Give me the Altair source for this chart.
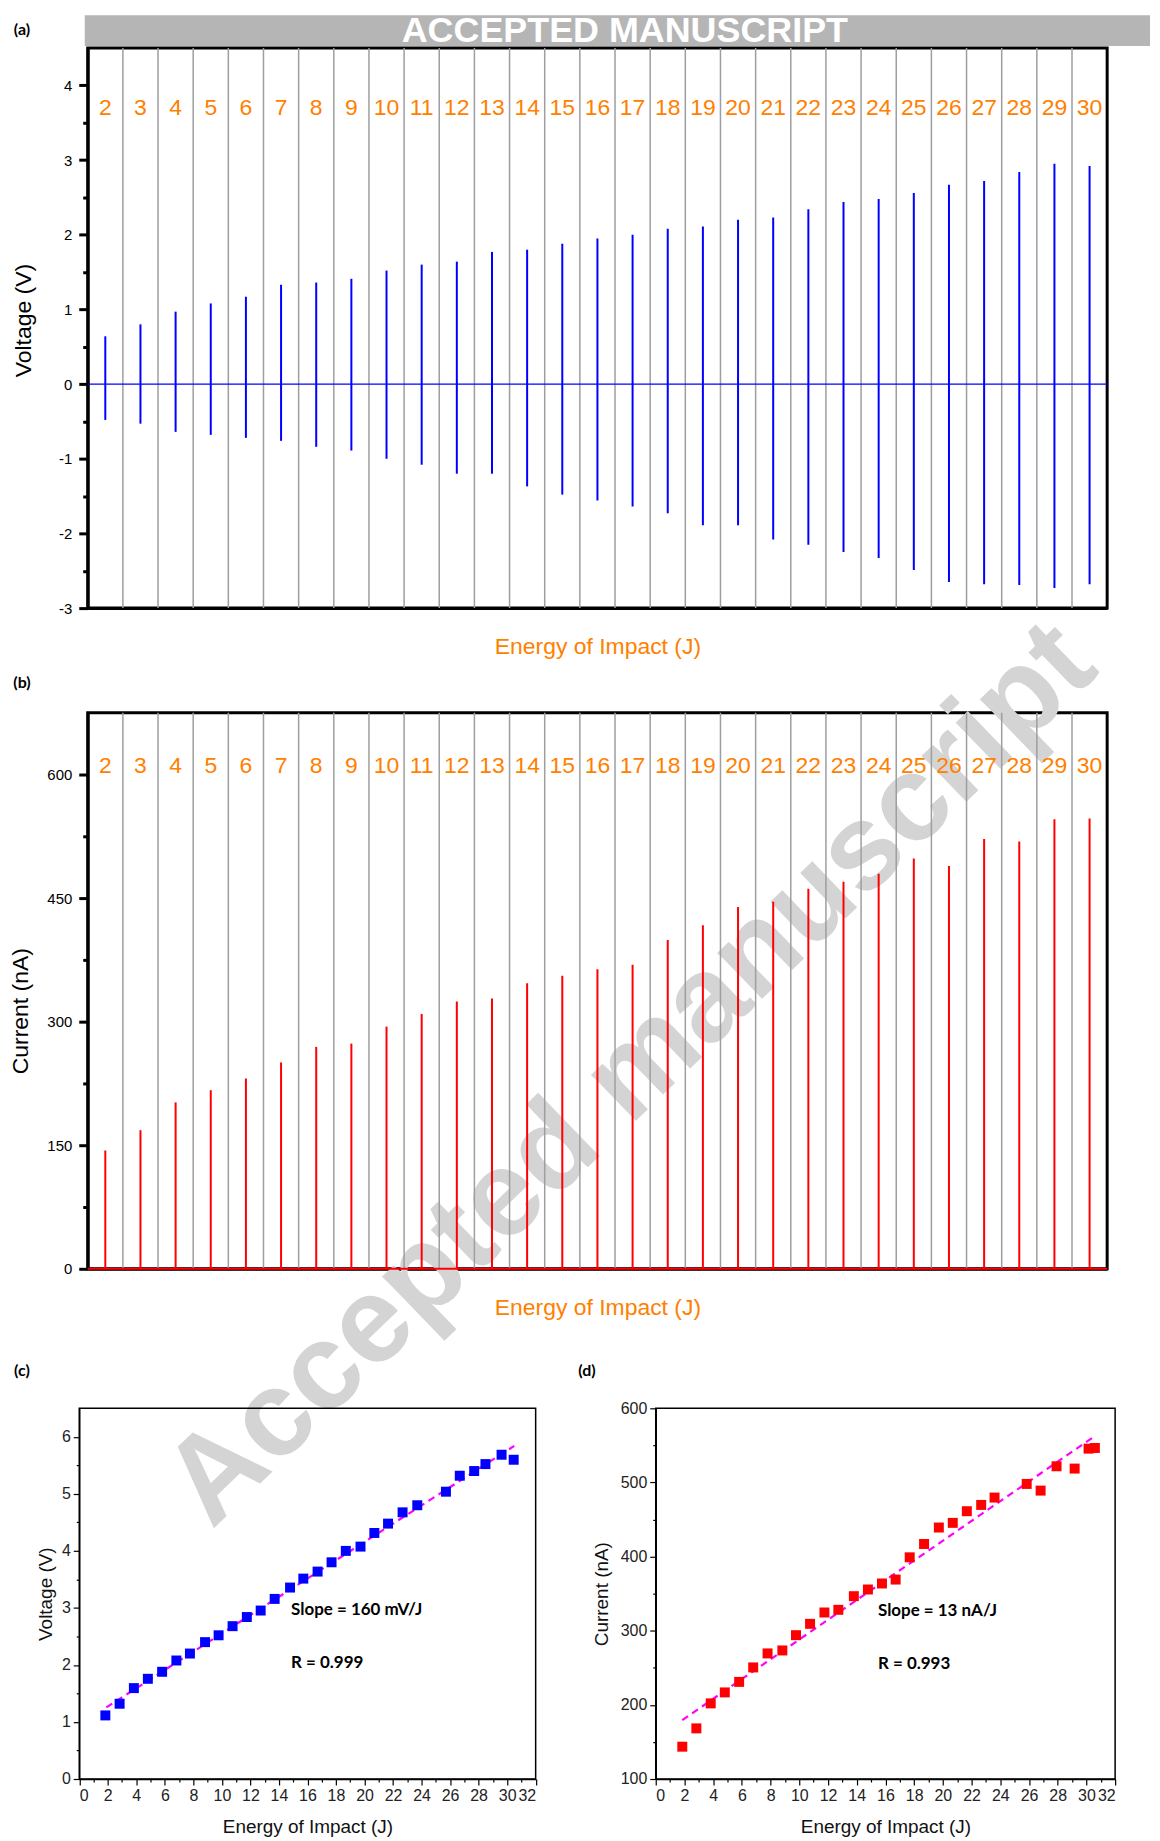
import altair as alt
import pandas as pd

FONT = "Liberation Sans"
BOLD_FONT = "Lato"
ORANGE = "#ff8000"

# ---------------- data ----------------
energies = list(range(2, 31))
v_pos = [0.64, 0.80, 0.97, 1.08, 1.17, 1.33, 1.36, 1.41, 1.52, 1.60,
         1.64, 1.77, 1.80, 1.88, 1.95, 2.00, 2.08, 2.11, 2.20, 2.23,
         2.34, 2.44, 2.48, 2.56, 2.67, 2.72, 2.84, 2.95, 2.92]
v_neg = [-0.48, -0.53, -0.64, -0.68, -0.72, -0.76, -0.84, -0.89, -1.00, -1.08,
         -1.20, -1.20, -1.37, -1.48, -1.56, -1.64, -1.73, -1.89, -1.89, -2.08,
         -2.15, -2.25, -2.33, -2.49, -2.65, -2.68, -2.69, -2.73, -2.68]
i_peak = [143.6, 168.3, 202.0, 216.8, 231.0, 250.5, 269.4, 273.4, 294.0, 309.3,
          324.6, 328.2, 346.6, 355.6, 363.7, 369.0, 399.0, 417.0, 439.2, 445.5,
          461.2, 469.7, 479.6, 498.0, 489.0, 521.8, 518.7, 545.6, 546.5]

e_c = [1.83, 2.83, 3.83, 4.81, 5.81, 6.81, 7.76, 8.82, 9.77, 10.75,
       11.75, 12.72, 13.70, 14.78, 15.71, 16.71, 17.69, 18.69, 19.72, 20.69,
       21.65, 22.67, 23.70, 25.71, 26.68, 27.69, 28.48, 29.61, 30.46]
volt_c = [1.115, 1.32, 1.594, 1.757, 1.88, 2.078, 2.20, 2.40, 2.52, 2.68,
          2.84, 2.954, 3.158, 3.357, 3.514, 3.637, 3.80, 4.00, 4.075, 4.314,
          4.478, 4.676, 4.80, 5.038, 5.318, 5.40, 5.522, 5.686, 5.598]
e_d = [1.85, 2.83, 3.83, 4.81, 5.81, 6.79, 7.79, 8.82, 9.77, 10.75,
       11.75, 12.72, 13.80, 14.78, 15.76, 16.71, 17.69, 18.69, 19.72, 20.69,
       21.67, 22.67, 23.60, 25.84, 26.81, 27.92, 29.18, 30.15, 30.59]
curr_d = i_peak

fit_c_x = [1.9, 30.5]
fit_c_y = [1.255, 5.84]
fit_d_x = [1.85, 30.6]
fit_d_y = [179.5, 562.7]

ann_c = ["Slope = 160 mV/J", "R = 0.999"]
ann_c_x = [14.85, 14.85]
ann_c_y = [2.96, 2.03]
ann_d = ["Slope = 13 nA/J", "R = 0.993"]
ann_d_x = [15.48, 15.48]
ann_d_y = [327, 255]

# ---------------- layout sizes ----------------
W = 1023
HA, HB, HCD = 562, 558, 407
CD_TOP = 35

dfa = pd.DataFrame({"e": energies, "vp": v_pos, "vn": v_neg,
                    "lab": [str(e) for e in energies]})
dfb = pd.DataFrame({"e": energies, "ip": i_peak, "zero": [0] * len(energies),
                    "lab": [str(e) for e in energies]})
bounds_df = pd.DataFrame({"b": [e + 0.5 for e in energies[:-1]]})
zero_df = pd.DataFrame({"z": [0]})


def one(text):
    return pd.DataFrame({"t": [text]})


def major_ticksize(test, major, minor):
    return {"condition": {"test": test, "value": major}, "value": minor}


# ---------------- panel (a) ----------------
xa = alt.Scale(domain=[1.5, 30.5])
ya = alt.Scale(domain=[-3, 4.5])
xaxis_top = dict(labels=False, ticks=False, grid=False, domainColor="black",
                 domainWidth=3, titleColor=ORANGE, titleFont=FONT, titleFontSize=23,
                 titleFontWeight="normal", titleY=39, titleBaseline="middle")
xaxis_a = alt.Axis(title="Energy of Impact (J)", **xaxis_top)
yaxis_a = alt.Axis(
    title="Voltage (V)",
    values=[-3, -2.5, -2, -1.5, -1, -0.5, 0, 0.5, 1, 1.5, 2, 2.5, 3, 3.5, 4],
    labelExpr="datum.value % 1 === 0 ? datum.value + '' : ''",
    tickSize=major_ticksize("datum.value % 1 === 0", 9, 5),
    tickWidth=3, tickColor="black", domainColor="black", domainWidth=3,
    labelFont=FONT, labelFontSize=15, labelColor="black", labelPadding=7,
    grid=False, titleFont=FONT, titleFontSize=23, titleFontWeight="normal",
    titleColor="black", titleX=-64, titleY=273, titleAngle=270,
    titleAlign="center", titleBaseline="middle")

A_X = lambda f: alt.X(f, scale=xa, axis=xaxis_a)
A_Y = lambda f: alt.Y(f, scale=ya, axis=yaxis_a)

a_grid = alt.Chart(bounds_df).mark_rule(color="#9e9e9e", strokeWidth=1.5).encode(x=A_X("b:Q"))
a_zero = alt.Chart(zero_df).mark_rule(color="#0000ff", strokeWidth=1.3).encode(y=A_Y("z:Q"))
a_spk = alt.Chart(dfa).mark_rule(color="#0000ff", strokeWidth=2).encode(
    x=A_X("e:Q"), y=A_Y("vn:Q"), y2="vp:Q")
a_lab = alt.Chart(dfa).mark_text(color=ORANGE, font=FONT, fontSize=23, baseline="middle").encode(
    x=A_X("e:Q"), y=alt.Y(datum=3.7, scale=ya, axis=yaxis_a), text="lab:N")
a_banner = alt.Chart(one("ACCEPTED MANUSCRIPT")).mark_rect(color="#b5b5b5").encode(
    x=alt.value(-3), x2=alt.value(1066), y=alt.value(-33), y2=alt.value(-2))
a_banner_t = alt.Chart(one("ACCEPTED MANUSCRIPT")).mark_text(
    color="white", font=FONT, fontWeight="bold", fontSize=36, baseline="middle").encode(
    x=alt.value(539), y=alt.value(-17), text="t:N")
a_tag = alt.Chart(one("(a)")).mark_text(font=BOLD_FONT, fontWeight="bold", fontSize=16,
                                        color="black", baseline="middle").encode(
    x=alt.value(-66), y=alt.value(-18), text="t:N")

panel_a = alt.layer(a_grid, a_zero, a_spk, a_lab, a_banner, a_banner_t, a_tag).properties(
    width=W, height=HA, view=alt.ViewBackground(stroke="black", strokeWidth=3))

# ---------------- panel (b) ----------------
xb = alt.Scale(domain=[1.5, 30.5])
yb = alt.Scale(domain=[0, 675])
xaxis_b = alt.Axis(title="Energy of Impact (J)", **xaxis_top)
yaxis_b = alt.Axis(
    title="Current (nA)",
    values=[0, 75, 150, 225, 300, 375, 450, 525, 600],
    labelExpr="datum.value % 150 === 0 ? datum.value + '' : ''",
    tickSize=major_ticksize("datum.value % 150 === 0", 9, 5),
    tickWidth=3, tickColor="black", domainColor="black", domainWidth=3,
    labelFont=FONT, labelFontSize=15, labelColor="black", labelPadding=7,
    grid=False, titleFont=FONT, titleFontSize=23, titleFontWeight="normal",
    titleColor="black", titleX=-67, titleY=299, titleAngle=270,
    titleAlign="center", titleBaseline="middle")

B_X = lambda f: alt.X(f, scale=xb, axis=xaxis_b)
B_Y = lambda f: alt.Y(f, scale=yb, axis=yaxis_b)

b_wm = alt.Chart(one("Accepted manuscript")).mark_text(
    font=FONT, fontWeight="bold", fontSize=122, color="#d4d4d4", angle=316,
    baseline="middle", align="center").encode(
    x=alt.value(545), y=alt.value(363), text="t:N")
b_grid = alt.Chart(bounds_df).mark_rule(color="#9e9e9e", strokeWidth=1.5).encode(x=B_X("b:Q"))
b_zero = alt.Chart(zero_df).mark_rule(color="#ff0000", strokeWidth=2).encode(y=B_Y("z:Q"))
b_spk = alt.Chart(dfb).mark_rule(color="#ff0000", strokeWidth=2).encode(
    x=B_X("e:Q"), y=B_Y("zero:Q"), y2="ip:Q")
b_lab = alt.Chart(dfb).mark_text(color=ORANGE, font=FONT, fontSize=23, baseline="middle").encode(
    x=B_X("e:Q"), y=alt.Y(datum=610, scale=yb, axis=yaxis_b), text="lab:N")
b_tag = alt.Chart(one("(b)")).mark_text(font=BOLD_FONT, fontWeight="bold", fontSize=16,
                                        color="black", baseline="middle").encode(
    x=alt.value(-66), y=alt.value(-30), text="t:N")

panel_b = alt.layer(b_wm, b_grid, b_zero, b_spk, b_lab, b_tag).properties(
    width=W, height=HB, view=alt.ViewBackground(stroke="black", strokeWidth=3))

# ---------------- panels (c) and (d) ----------------
x_vals = list(range(0, 33))
common_x = dict(values=x_vals,
                labelExpr="datum.value % 2 === 0 ? datum.value + '' : ''",
                tickSize=major_ticksize("datum.value % 2 === 0", 6, 3),
                tickWidth=1.2, tickColor="black", domainColor="black", domainWidth=1.5,
                labelFont=FONT, labelFontSize=16, labelColor="#222", labelPadding=3,
                grid=False, title="Energy of Impact (J)", titleFont=FONT,
                titleFontSize=19, titleFontWeight="normal", titleColor="#111",
                titleY=48, titleBaseline="middle", orient="bottom")
common_y = dict(tickWidth=1.2, tickColor="black", domainColor="black", domainWidth=1.5,
                labelFont=FONT, labelFontSize=16, labelColor="#222", labelPadding=3,
                grid=False, titleFont=FONT, titleFontSize=19, titleFontWeight="normal",
                titleColor="#111", titleAngle=270, titleAlign="center",
                titleBaseline="middle", orient="left")

xc = alt.Scale(domain=[0, 32], range=[-8.5, 449.5])
yc = alt.Scale(domain=[0, 6.5], range=[HCD, CD_TOP])
xd = alt.Scale(domain=[0, 32], range=[570, 1031])
yd = alt.Scale(domain=[100, 600], range=[HCD, CD_TOP])

xaxis_c = alt.Axis(**common_x)
xaxis_d = alt.Axis(**common_x)
yaxis_c = alt.Axis(values=[0, 0.5, 1, 1.5, 2, 2.5, 3, 3.5, 4, 4.5, 5, 5.5, 6],
                   labelExpr="datum.value % 1 === 0 ? datum.value + '' : ''",
                   tickSize=major_ticksize("datum.value % 1 === 0", 6, 3),
                   title="Voltage (V)", titleX=-34, offset=8.5, **common_y)
yaxis_d = alt.Axis(values=[100, 150, 200, 250, 300, 350, 400, 450, 500, 550, 600],
                   labelExpr="datum.value % 100 === 0 ? datum.value + '' : ''",
                   tickSize=major_ticksize("datum.value % 100 === 0", 6, 3),
                   title="Current (nA)", titleX=-54, offset=-570, **common_y)

C_X = lambda f: alt.X(f, scale=xc, axis=xaxis_c)
C_Y = lambda f: alt.Y(f, scale=yc, axis=yaxis_c)
D_X = lambda f: alt.X(f, scale=xd, axis=xaxis_d)
D_Y = lambda f: alt.Y(f, scale=yd, axis=yaxis_d)

dfc = pd.DataFrame({"e": e_c, "v": volt_c})
dfd = pd.DataFrame({"e": e_d, "i": curr_d})
fitc = pd.DataFrame({"e": fit_c_x, "v": fit_c_y})
fitd = pd.DataFrame({"e": fit_d_x, "i": fit_d_y})
frame_c = pd.DataFrame({"x0": [0], "x1": [32], "y0": [0], "y1": [6.5]})
frame_d = pd.DataFrame({"x0": [0], "x1": [32], "y0": [100], "y1": [600]})
annc = pd.DataFrame({"x": ann_c_x, "y": ann_c_y, "t": ann_c})
annd = pd.DataFrame({"x": ann_d_x, "y": ann_d_y, "t": ann_d})

c_frame = alt.Chart(frame_c).mark_rect(fillOpacity=0, stroke="black", strokeWidth=1.5).encode(
    x=C_X("x0:Q"), x2="x1:Q", y=C_Y("y0:Q"), y2="y1:Q")
c_fit = alt.Chart(fitc).mark_line(color="#ff00ff", strokeWidth=2.2, strokeDash=[7, 5]).encode(
    x=C_X("e:Q"), y=C_Y("v:Q"))
c_pts = alt.Chart(dfc).mark_square(size=100, color="#0000ff", opacity=1).encode(
    x=C_X("e:Q"), y=C_Y("v:Q"))
c_ann = alt.Chart(annc).mark_text(font=BOLD_FONT, fontWeight="bold", fontSize=17,
                                  color="black", align="left", baseline="middle").encode(
    x=C_X("x:Q"), y=C_Y("y:Q"), text="t:N")
c_tag = alt.Chart(one("(c)")).mark_text(font=BOLD_FONT, fontWeight="bold", fontSize=16,
                                        color="black", baseline="middle").encode(
    x=alt.value(-66), y=alt.value(-2), text="t:N")
layer_c = alt.layer(c_frame, c_fit, c_pts, c_ann, c_tag)

d_frame = alt.Chart(frame_d).mark_rect(fillOpacity=0, stroke="black", strokeWidth=1.5).encode(
    x=D_X("x0:Q"), x2="x1:Q", y=D_Y("y0:Q"), y2="y1:Q")
d_fit = alt.Chart(fitd).mark_line(color="#ff00ff", strokeWidth=2.2, strokeDash=[7, 5]).encode(
    x=D_X("e:Q"), y=D_Y("i:Q"))
d_pts = alt.Chart(dfd).mark_square(size=100, color="#ff0000", opacity=1).encode(
    x=D_X("e:Q"), y=D_Y("i:Q"))
d_ann = alt.Chart(annd).mark_text(font=BOLD_FONT, fontWeight="bold", fontSize=17,
                                  color="black", align="left", baseline="middle").encode(
    x=D_X("x:Q"), y=D_Y("y:Q"), text="t:N")
d_tag = alt.Chart(one("(d)")).mark_text(font=BOLD_FONT, fontWeight="bold", fontSize=16,
                                        color="black", baseline="middle").encode(
    x=alt.value(501), y=alt.value(-2), text="t:N")
layer_d = alt.layer(d_frame, d_fit, d_pts, d_ann, d_tag)

panel_cd = alt.layer(layer_c, layer_d).resolve_scale(x="independent", y="independent").properties(
    width=W, height=HCD, view=alt.ViewBackground(stroke="transparent"))

chart = alt.vconcat(panel_a, panel_b, panel_cd, spacing=105, bounds="flush").properties(
    padding=0, background="white"
).configure_view(strokeWidth=0)

chart.save("out.html", embed_options={"renderer": "svg", "actions": False})
